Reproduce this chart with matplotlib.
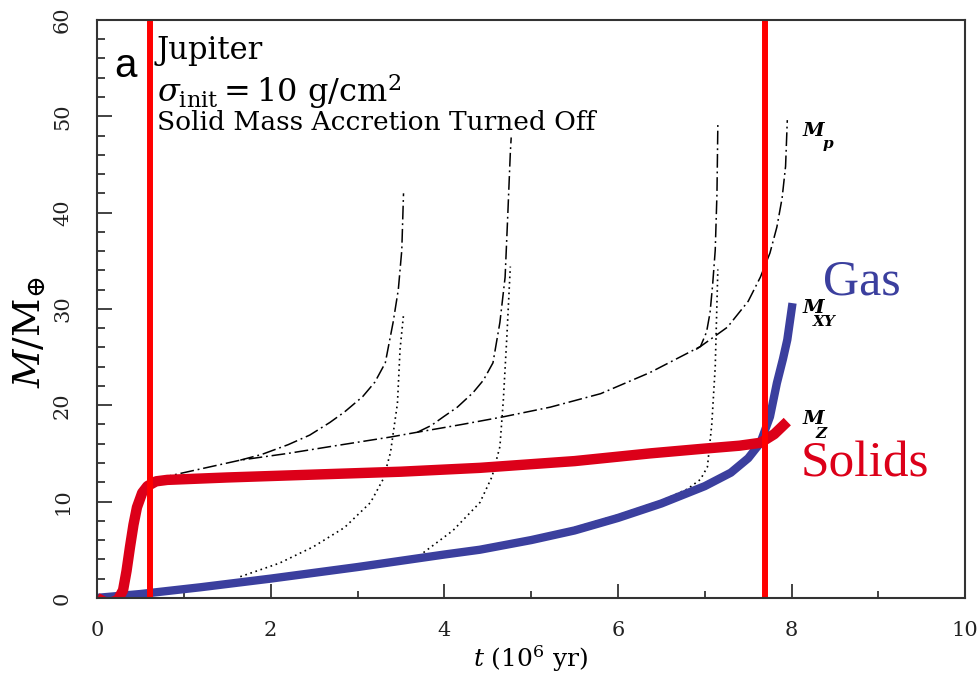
import numpy as np
import matplotlib
matplotlib.use("Agg")
import matplotlib.pyplot as plt
from matplotlib.ticker import MultipleLocator

# --- data (t in Myr, M in Earth masses) --------------------------------
# total mass M_p, baseline run (dash-dot)
mp_t = [0.70, 1.00, 1.65, 2.20, 2.68, 3.38, 3.69, 4.20, 4.68, 5.22, 5.80,
        6.37, 6.95, 7.26, 7.50, 7.64, 7.75, 7.83, 7.89, 7.93, 7.95]
mp_m = [12.4, 13.0, 14.3, 15.0, 15.7, 16.7, 17.2, 18.0, 18.8, 19.8, 21.2,
        23.4, 26.1, 28.1, 30.8, 33.3, 35.8, 38.5, 41.5, 44.8, 49.6]

# M_p after solid accretion is switched off (three runs, dash-dot)
br1_t = [1.65, 1.90, 2.20, 2.45, 2.68, 2.85, 3.06, 3.20, 3.32, 3.41, 3.47, 3.51, 3.53]
br1_m = [14.3, 14.9, 15.9, 16.9, 18.2, 19.3, 20.9, 22.4, 24.4, 28.6, 32.0, 36.1, 42.0]
br2_t = [3.69, 3.85, 3.99, 4.15, 4.33, 4.45, 4.56, 4.64, 4.70, 4.73, 4.76, 4.77]
br2_m = [17.2, 17.9, 18.8, 19.8, 21.3, 22.6, 24.4, 28.6, 33.3, 39.6, 46.2, 47.8]
br3_t = [6.90, 6.95, 7.02, 7.06, 7.09, 7.12, 7.14, 7.15]
br3_m = [25.8, 26.1, 27.6, 29.6, 32.5, 36.1, 42.0, 49.1]

# gas mass M_XY for the same three runs (dotted)
xy1_t = [1.65, 2.10, 2.49, 2.85, 3.15, 3.30, 3.38, 3.46, 3.49, 3.53]
xy1_m = [2.2, 3.6, 5.3, 7.3, 9.9, 12.4, 15.1, 20.2, 25.8, 29.4]
xy2_t = [3.76, 4.10, 4.41, 4.55, 4.64, 4.68, 4.72, 4.76]
xy2_m = [4.7, 7.0, 9.9, 12.6, 15.7, 20.6, 27.1, 34.4]
xy3_t = [5.50, 6.00, 6.50, 6.80, 6.95, 7.03, 7.08, 7.12, 7.15]
xy3_m = [7.3, 8.6, 10.1, 11.3, 12.3, 13.6, 18.0, 24.0, 34.1]

# baseline gas (M_XY) and solids (M_Z), highlighted
gas_t = [0.0, 0.5, 1.19, 2.0, 3.0, 4.0, 4.41, 5.0, 5.5, 6.0, 6.5, 7.0,
         7.3, 7.5, 7.64, 7.75, 7.83, 7.90, 7.95, 8.01]
gas_m = [0.0, 0.4, 1.1, 2.0, 3.2, 4.5, 5.0, 6.0, 7.0, 8.3, 9.8, 11.6,
         13.0, 14.5, 16.1, 18.8, 22.3, 24.8, 26.8, 30.6]
solid_t = [0.0, 0.08, 0.16, 0.24, 0.30, 0.34, 0.38, 0.42, 0.46, 0.52, 0.58,
           0.68, 0.81, 1.5, 2.5, 3.5, 4.41, 5.5, 6.37, 7.0, 7.4, 7.64, 7.8, 7.95]
solid_m = [0.0, -0.4, -0.5, -0.2, 0.8, 2.8, 5.3, 7.6, 9.4, 10.9, 11.6,
           12.1, 12.25, 12.5, 12.8, 13.1, 13.5, 14.2, 15.0, 15.5, 15.8, 16.1, 17.0, 18.3]

# times marked with vertical red lines
mark_t = [0.61, 7.69]

# --- plot --------------------------------------------------------------
plt.rcParams["font.family"] = ["DejaVu Serif"]
plt.rcParams["mathtext.fontset"] = "dejavuserif"

fig = plt.figure(figsize=(9.8, 6.88), dpi=100)
ax = fig.add_axes([0.099, 0.131, 0.886, 0.840])

dashdot = (0, (9, 2.5, 1.2, 2.5))
dotted = (0, (1, 2.2))
for t, m in [(mp_t, mp_m), (br1_t, br1_m), (br2_t, br2_m), (br3_t, br3_m)]:
    ax.plot(t, m, color="black", lw=1.1, linestyle=dashdot)
for t, m in [(xy1_t, xy1_m), (xy2_t, xy2_m), (xy3_t, xy3_m)]:
    ax.plot(t, m, color="black", lw=1.2, linestyle=dotted)

ax.plot(gas_t, gas_m, color="#3b3f9e", lw=6.0, solid_capstyle="butt")
ax.plot(solid_t, solid_m, color="#dc0019", lw=7.5, solid_capstyle="butt")
for t in mark_t:
    ax.axvline(t, color="#ff0000", lw=4.3)

ax.set_xlim(0, 10)
ax.set_ylim(0, 60)
ax.xaxis.set_major_locator(MultipleLocator(2))
ax.xaxis.set_minor_locator(MultipleLocator(1))
ax.yaxis.set_major_locator(MultipleLocator(10))
ax.yaxis.set_minor_locator(MultipleLocator(2))
ax.tick_params(which="both", direction="in", width=1.2, colors="#222222")
ax.tick_params(axis="x", which="major", length=10, pad=17, labelsize=15)
ax.tick_params(axis="x", which="minor", length=5)
ax.tick_params(axis="y", which="major", length=11, pad=18, labelsize=15,
               labelrotation=90)
ax.tick_params(axis="y", which="minor", length=6)
for lbl in ax.get_yticklabels():
    lbl.set_va("center")
for s in ax.spines.values():
    s.set_linewidth(1.5)
    s.set_color("#333333")

ax.set_xlabel(r"$t$ (10$^6$ yr)", fontsize=18, labelpad=2)
ax.set_ylabel(r"$M/\mathrm{M}_{\oplus}$", fontsize=27)
ax.yaxis.set_label_coords(-0.056, 0.46)

# panel annotations
ax.text(0.33, 54.1, "a", fontsize=29, family="Liberation Sans", ha="center")
ax.text(0.69, 55.9, "Jupiter", fontsize=22)
ax.text(0.69, 51.5, r"$\sigma_{\mathrm{init}} = 10\ \mathrm{g/cm^2}$", fontsize=23)
ax.text(0.69, 48.6, "Solid Mass Accretion Turned Off", fontsize=19)

# curve labels: bold italic M with a smaller lowered subscript
for y, sub, dx, dy in [(47.9, "p", 0.23, 1.2), (29.6, "XY", 0.11, 1.4), (18.0, "Z", 0.14, 1.4)]:
    ax.text(8.13, y, "M", fontsize=14, fontweight="bold", style="italic")
    ax.text(8.13 + dx, y - dy, sub, fontsize=11, fontweight="bold", style="italic")

ax.text(8.36, 31.5, "Gas", fontsize=36, color="#3b3f9e", family="Liberation Serif")
ax.text(8.10, 12.6, "Solids", fontsize=37, color="#dc0019", family="Liberation Serif")

fig.savefig("out.png", dpi=100)
